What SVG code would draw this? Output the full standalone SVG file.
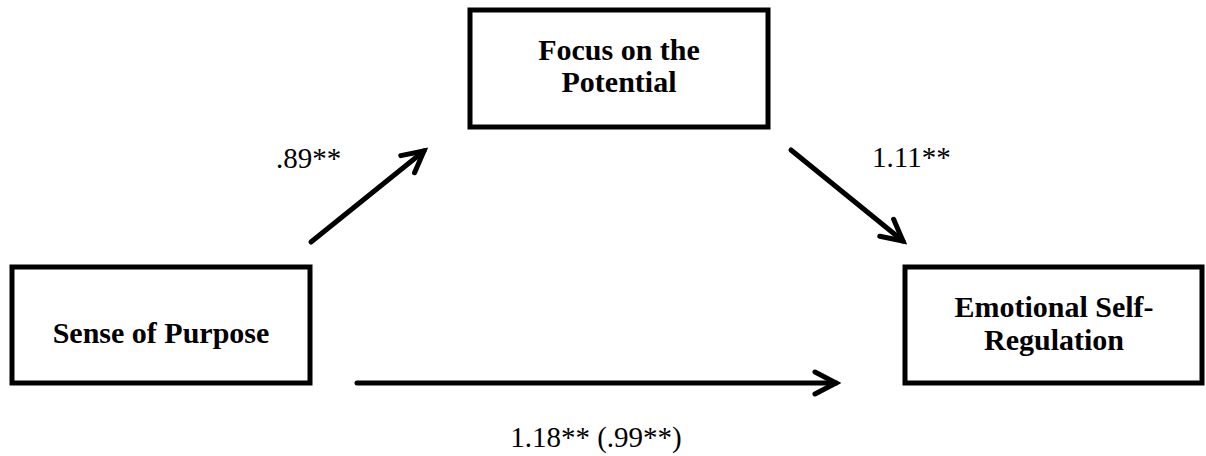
<svg xmlns="http://www.w3.org/2000/svg" width="1206" height="456" viewBox="0 0 1206 456">
  <style>
    .box { fill: #ffffff; stroke: #000000; stroke-width: 5; }
    .node-text { font-family: "Liberation Serif", "Times New Roman", serif; font-weight: bold; font-size: 30px; fill: #000000; text-anchor: middle; }
    .label { font-family: "Liberation Serif", "Times New Roman", serif; font-size: 29px; fill: #000000; }
    .conn { stroke: #000000; stroke-width: 5; fill: none; stroke-linecap: round; }
  </style>
  <defs>
    <marker id="arrow" markerUnits="userSpaceOnUse" markerWidth="30" markerHeight="30" viewBox="0 0 30 30" refX="25" refY="15" orient="auto">
      <path d="M4,4 L25,15 L4,26" fill="none" stroke="#000000" stroke-width="5" stroke-linecap="round" stroke-linejoin="miter"/>
    </marker>
  </defs>
  <rect width="1206" height="456" fill="#ffffff"/>

  <g id="node-purpose">
    <rect class="box" x="12" y="267" width="298" height="116"/>
    <text class="node-text" x="161" y="343">Sense of Purpose</text>
  </g>

  <g id="node-focus">
    <rect class="box" x="470" y="10" width="298" height="117"/>
    <text class="node-text" x="619" y="60">Focus on the</text>
    <text class="node-text" x="619" y="92">Potential</text>
  </g>

  <g id="node-emotional">
    <rect class="box" x="905" y="267" width="297" height="116"/>
    <text class="node-text" x="1054" y="317">Emotional Self-</text>
    <text class="node-text" x="1054" y="350">Regulation</text>
  </g>

  <g id="connectors">
    <line class="conn" x1="311" y1="242" x2="424" y2="151" marker-end="url(#arrow)"/>
    <line class="conn" x1="791" y1="150" x2="903" y2="241" marker-end="url(#arrow)"/>
    <line class="conn" x1="357" y1="383" x2="836" y2="383" marker-end="url(#arrow)"/>
  </g>

  <g id="labels">
    <text class="label" x="276" y="168">.89**</text>
    <text class="label" x="872" y="167">1.11**</text>
    <text class="label" x="596" y="447" text-anchor="middle">1.18** (.99**)</text>
  </g>
</svg>
